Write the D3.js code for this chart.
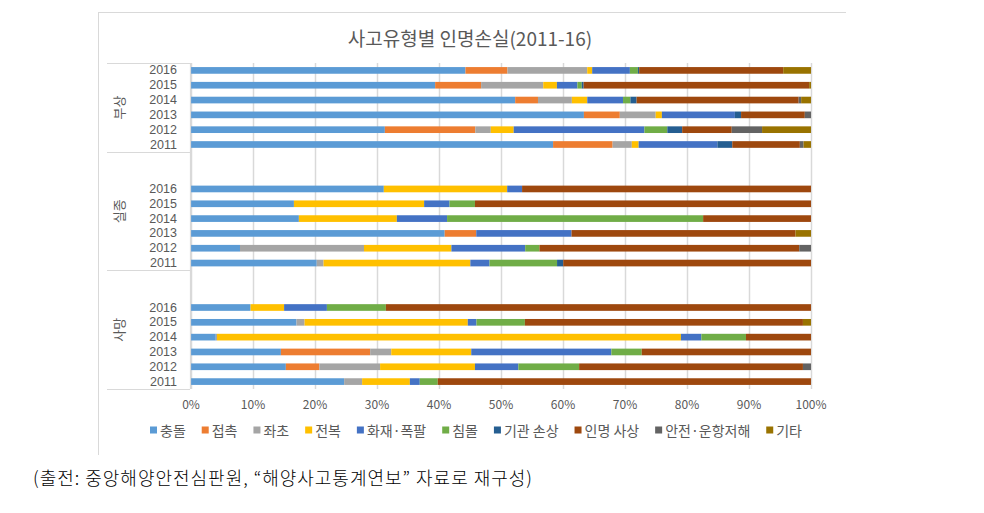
<!DOCTYPE html>
<html><head><meta charset="utf-8">
<script src="https://cdn.jsdelivr.net/npm/d3@7/dist/d3.min.js"></script>
<style>
body{margin:0;background:#fff}
text{font-family:"Noto Sans CJK KR","Noto Sans",sans-serif}
</style>
</head><body><svg id="c" width="984" height="513"></svg>
<script>
const title = "사고유형별 인명손실(2011-16)";
const footer = "(출전: 중앙해양안전심판원, “해양사고통계연보” 자료로 재구성)";
const groups = ["부상","실종","사망"];
const years = ["2016","2015","2014","2013","2012","2011"];
const seriesNames = ["충돌","접촉","좌초","전복","화재·폭팔","침몰","기관 손상","인명 사상","안전·운항저해","기타"];
const seriesColors = ["#5B9BD5","#ED7D31","#A5A5A5","#FFC000","#4472C4","#70AD47","#255E91","#9E480E","#636363","#997300"];
const tickValues = [0,10,20,30,40,50,60,70,80,90,100];
// row order: 부상 2016..2011, 실종 2016..2011, 사망 2016..2011
const s충돌 = [44.4,39.3,52.6,63.5,31.3,58.4, 31.1,16.6,17.4,41.0,7.9,20.3, 9.6,17.0,4.0,14.5,15.3,24.7];
const s접촉 = [6.8,7.4,3.7,5.8,14.6,9.6, 0,0,0,5.1,0,0, 0,0,0,14.4,5.4,0];
const s좌초 = [12.9,10.0,5.5,5.8,2.5,3.1, 0,0,0,0,20.0,1.1, 0,1.3,0.2,3.4,9.8,2.9];
const s전복 = [0.8,2.2,2.5,1.0,3.7,1.1, 19.9,21.0,15.8,0,14.1,23.7, 5.4,26.3,74.9,12.9,15.3,7.7];
const s화재 = [6.1,3.3,5.8,11.8,21.1,12.7, 2.4,4.1,8.1,15.4,11.9,3.1, 6.9,1.4,3.3,22.6,7.0,1.6];
const s침몰 = [1.3,0.7,1.2,0,3.7,0, 0,4.1,41.3,0,2.3,10.9, 9.5,7.8,7.2,4.9,9.8,2.9];
const s기관 = [0.2,0.3,1.0,1.0,2.4,2.4, 0,0,0,0,0,1.0, 0,0,0,0,0,0];
const s인명 = [23.3,36.3,26.3,10.3,8.0,10.9, 46.6,54.2,17.4,36.2,41.9,40.0, 68.5,44.8,10.5,27.3,36.1,60.2];
const s안전 = [0,0,0.4,1.0,4.9,0.6, 0,0,0,0,1.9,0, 0,0,0,0,1.3,0];
const s기타 = [4.5,0.3,1.6,0,7.9,1.2, 0,0,0,2.5,0,0, 0,1.3,0,0,0,0];
const seriesValues = [s충돌,s접촉,s좌초,s전복,s화재,s침몰,s기관,s인명,s안전,s기타];

const svg = d3.select("#c");
const txt = "#595959", grid = "#d9d9d9";

const rows = [];
groups.forEach(g => years.forEach(y => rows.push({g, y, key: g + "|" + y})));
rows.forEach((r, i) => seriesNames.forEach((s, j) => r[s] = seriesValues[j][i]));
const domain = [];
groups.forEach((g, gi) => {
  if (gi > 0) { domain.push("blank" + gi + "a"); domain.push("blank" + gi + "b"); }
  years.forEach(y => domain.push(g + "|" + y));
});

const x = d3.scaleLinear().domain([0, 1]).range([191, 811]);
const y = d3.scaleBand().domain(domain).range([63, 389]).paddingInner(0.55).paddingOuter(0.275);
const step = y.step();

// chart area border
svg.append("line").attr("x1", 98).attr("x2", 846).attr("y1", 12.5).attr("y2", 12.5).attr("stroke", grid);
svg.append("line").attr("x1", 98.5).attr("x2", 98.5).attr("y1", 12).attr("y2", 455).attr("stroke", grid);

// title
svg.append("text").attr("x", 470).attr("y", 37).attr("text-anchor", "middle")
  .attr("dominant-baseline", "central").attr("fill", txt).style("font-size", "19px").text(title);

// gridlines
svg.append("g").selectAll("line").data(tickValues).join("line")
  .attr("x1", d => x(d / 100) + 0.5).attr("x2", d => x(d / 100) + 0.5)
  .attr("y1", 63).attr("y2", 389).attr("stroke", grid).attr("stroke-width", 1.5);

// stacked bars (100% stacked)
const stack = d3.stack().keys(seriesNames).offset(d3.stackOffsetExpand);
const layers = stack(rows);
svg.append("g").selectAll("g").data(layers).join("g")
  .attr("fill", (d, i) => seriesColors[i])
  .selectAll("rect").data(d => d).join("rect")
  .attr("x", d => x(d[0])).attr("width", d => Math.max(0, x(d[1]) - x(d[0])))
  .attr("y", d => y(d.data.key)).attr("height", y.bandwidth());

// category axis
svg.append("line").attr("x1", 190.5).attr("x2", 190.5).attr("y1", 63).attr("y2", 389).attr("stroke", grid).attr("stroke-width", 1.2);
const bounds = [y.range()[0]];
groups.forEach(g => bounds.push(y(g + "|2011") + y.bandwidth() + (step - y.bandwidth()) / 2));
svg.append("g").selectAll("line").data(bounds).join("line")
  .attr("x1", 107).attr("x2", 190).attr("y1", d => Math.round(d) + 0.5).attr("y2", d => Math.round(d) + 0.5)
  .attr("stroke", grid).attr("stroke-width", 1.2);

svg.append("g").selectAll("text").data(rows).join("text")
  .attr("x", 177).attr("y", d => y(d.key) + y.bandwidth() / 2)
  .attr("text-anchor", "end").attr("dominant-baseline", "central")
  .attr("fill", txt).style("font-family", "'Liberation Sans',Arial,sans-serif").style("font-size", "12.5px").text(d => d.y);

groups.forEach((g, gi) => {
  const cy = (bounds[gi] + bounds[gi + 1]) / 2;
  svg.append("text").attr("transform", `translate(118,${cy}) rotate(-90)`)
    .attr("text-anchor", "middle").attr("dominant-baseline", "central")
    .attr("fill", txt).style("font-size", "13px").text(g);
});

// x axis labels
svg.append("g").selectAll("text").data(tickValues).join("text")
  .attr("x", d => x(d / 100)).attr("y", 403).attr("text-anchor", "middle")
  .attr("dominant-baseline", "central").attr("fill", txt).style("font-size", "12px")
  .text(d => d + "%");

// legend
const lg = svg.append("g");
const items = seriesNames.map((s, i) => {
  const it = lg.append("g");
  it.append("rect").attr("x", 0).attr("y", -3.5).attr("width", 7).attr("height", 7).attr("fill", seriesColors[i]);
  const t = it.append("text").attr("x", 10).attr("y", 0).attr("dominant-baseline", "central")
    .attr("fill", txt).style("font-size", "14px").text(s);
  return {it, w: 10 + t.node().getComputedTextLength()};
});
const legendLeft = 150, legendRight = 802;
const gap = (legendRight - legendLeft - d3.sum(items, d => d.w)) / (items.length - 1);
let cx = 0;
items.forEach(d => { d.it.attr("transform", `translate(${cx},0)`); cx += d.w + gap; });
lg.attr("transform", `translate(${legendLeft},430)`);

// footer
svg.append("text").attr("x", 33).attr("y", 477).attr("dominant-baseline", "central")
  .attr("fill", "#000").style("font-family", "'Noto Sans CJK KR',sans-serif")
  .style("font-weight", "300").style("font-size", "18px")
  .attr("textLength", 499).attr("lengthAdjust", "spacing").text(footer);
</script></body></html>
